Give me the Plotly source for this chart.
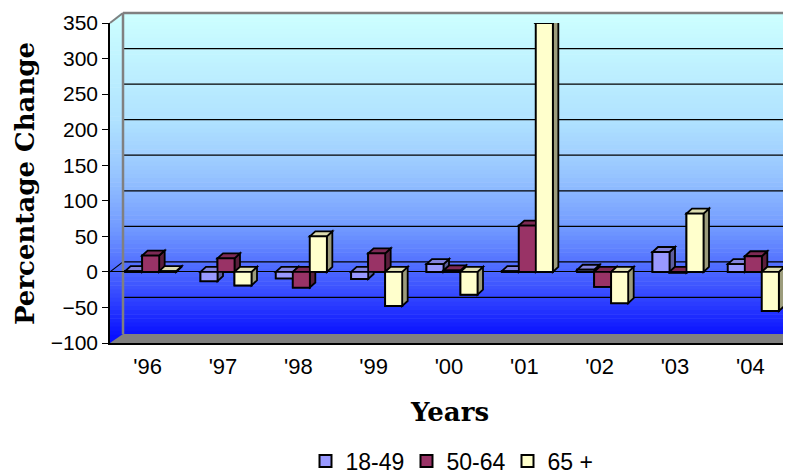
import plotly.graph_objects as go

# ---------------- data ----------------
years = ["'96", "'97", "'98", "'99", "'00", "'01", "'02", "'03", "'04"]
series_names = ["18-49", "50-64", "65 +"]
s18_49 = [1, -13, -9, -10, 11, 1, 3, 28, 11]
s50_64 = [23, 19, -22, 26, 2, 65, -21, -1, 22]
s65_up = [1, -19, 50, -48, -32, 350, -44, 82, -55]
y_ticks = [-100, -50, 0, 50, 100, 150, 200, 250, 300, 350]

# ---------------- style ----------------
front_cols = ["#9999FF", "#993366", "#FFFFCC"]
top_cols = ["#8484DD", "#7E2A55", "#DCDCB0"]
side_cols = ["#5E5E9E", "#5A1F3C", "#9C9C7C"]

W, H = 791, 474
OFF = 8                                  # page body margin of the browser
L, R, T, B = 110, 788, 23, 343           # plot area in screen pixels
YMIN, YMAX = y_ticks[0], y_ticks[-1]
ppu = (B - T) / (YMAX - YMIN)            # pixels per value unit
ncat = len(years)
cat_px = (R - L) / ncat

def fx(px):
    return (px - L) / (R - L)

def fy(py):
    return (B - py) / (B - T)

def ypx(v):
    return B - (v - YMIN) * ppu

# 3-D geometry (pixels)
box_dx, box_dy = 13, 10      # back wall offset
bar_front_dx = 3.0
bar_w = 17 / cat_px          # in category units
d_dx = 5.5 / cat_px
d_dy = 5 / ppu
x_shift = bar_front_dx / cat_px
XR = W + OFF

shapes = []

# back + side wall gradient
stops = [(0.0, (204, 255, 255)), (0.33, (176, 226, 255)), (0.5, (150, 196, 255)),
         (0.67, (112, 152, 255)), (0.85, (60, 82, 255)), (1.0, (8, 16, 255))]

def grad(t):
    for (t0, c0), (t1, c1) in zip(stops[:-1], stops[1:]):
        if t <= t1:
            f = (t - t0) / (t1 - t0)
            return "rgb(%d,%d,%d)" % tuple(round(a + (b - a) * f) for a, b in zip(c0, c1))
    return "rgb(%d,%d,%d)" % stops[-1][1]

wall_top = T - box_dy
wall_bot = B - box_dy + 1
n = 80
for i in range(n):
    y0 = wall_top + (B - wall_top) * i / n
    y1 = wall_top + (B - wall_top) * (i + 1) / n + 0.6
    t = min(1.0, (y0 - wall_top) / (wall_bot - wall_top))
    shapes.append(dict(type="rect", xref="paper", yref="paper", layer="below",
                       x0=fx(L), x1=fx(XR), y0=fy(y0), y1=fy(y1),
                       fillcolor=grad(t), line=dict(width=0)))

# white triangle above the slanted top of the side wall
shapes.append(dict(type="path", xref="paper", yref="paper", layer="below",
                   path="M %f,%f L %f,%f L %f,%f Z" % (fx(L - 1), fy(wall_top - 2), fx(L + box_dx), fy(wall_top - 2), fx(L - 1), fy(T)),
                   fillcolor="white", line=dict(width=0)))
# floor
shapes.append(dict(type="path", xref="paper", yref="paper", layer="below",
                   path="M %f,%f L %f,%f L %f,%f L %f,%f Z" % (fx(L), fy(B), fx(L + box_dx), fy(wall_bot), fx(XR), fy(wall_bot), fx(XR), fy(B)),
                   fillcolor="#808080", line=dict(width=0)))
# back wall gridlines
for v in y_ticks[1:-1]:
    yy = ypx(v) - box_dy
    shapes.append(dict(type="line", xref="paper", yref="paper", layer="below",
                       x0=fx(L + box_dx), x1=fx(XR), y0=fy(yy), y1=fy(yy),
                       line=dict(color="black", width=1.2)))
# zero diagonal on side wall
shapes.append(dict(type="line", xref="paper", yref="paper", layer="below",
                   x0=fx(L), y0=fy(ypx(0)), x1=fx(L + box_dx), y1=fy(ypx(0) - box_dy),
                   line=dict(color="black", width=1.2)))
# gray wall edges
gray = "#808080"
shapes.append(dict(type="line", xref="paper", yref="paper", layer="below",
                   x0=fx(L + box_dx), x1=fx(XR), y0=fy(wall_top), y1=fy(wall_top),
                   line=dict(color=gray, width=2.5)))
shapes.append(dict(type="line", xref="paper", yref="paper", layer="below",
                   x0=fx(L + box_dx), x1=fx(L + box_dx), y0=fy(wall_top), y1=fy(wall_bot),
                   line=dict(color=gray, width=2.5)))
shapes.append(dict(type="line", xref="paper", yref="paper", layer="below",
                   x0=fx(L), x1=fx(L + box_dx), y0=fy(T), y1=fy(wall_top),
                   line=dict(color=gray, width=2)))

# 3-D bar faces (drawn in painter's order, from the data)
all_series = [s18_49, s50_64, s65_up]
for i in range(ncat):
    for k, vals in enumerate(all_series):
        v = vals[i]
        xl = i + x_shift + (k - 1.5) * bar_w
        xr = xl + bar_w
        lo, hi = min(v, 0), max(v, 0)
        ln = dict(color="black", width=1.8)
        shapes.append(dict(type="path", xref="x", yref="y", layer="above",
                           path="M %f,%f L %f,%f L %f,%f L %f,%f Z" % (xr, lo, xr, hi, xr + d_dx, hi + d_dy, xr + d_dx, lo + d_dy),
                           fillcolor=side_cols[k], line=ln))
        shapes.append(dict(type="path", xref="x", yref="y", layer="above",
                           path="M %f,%f L %f,%f L %f,%f L %f,%f Z" % (xl, hi, xr, hi, xr + d_dx, hi + d_dy, xl + d_dx, hi + d_dy),
                           fillcolor=top_cols[k], line=ln))
        shapes.append(dict(type="rect", xref="x", yref="y", layer="above",
                           x0=xl, x1=xr, y0=lo, y1=hi,
                           fillcolor=front_cols[k], line=ln))

fig = go.Figure()
for k, (name, vals) in enumerate(zip(series_names, all_series)):
    fig.add_trace(go.Bar(
        x=[i + x_shift for i in range(ncat)], y=vals, name=name,
        width=bar_w, offset=(k - 1.5) * bar_w,
        marker=dict(color=front_cols[k], line=dict(color="black", width=2)),
        xaxis="x", yaxis="y"))

tick_font = dict(family="Liberation Sans, Arial, sans-serif", size=21, color="black")
boundaries = [i - 0.5 for i in range(ncat + 1)]

fig.update_layout(
    width=W, height=H,
    margin=dict(l=L - OFF, r=W - R + OFF, t=T - OFF, b=H - B + OFF, autoexpand=False),
    paper_bgcolor="white", plot_bgcolor="rgba(0,0,0,0)",
    barmode="overlay", showlegend=True,
    shapes=shapes,
    xaxis=dict(range=[-0.5, ncat - 0.5], tickvals=list(range(ncat)), ticktext=years,
               ticks="", ticklabelstandoff=3, automargin=False,
               showline=True, linecolor="black", linewidth=1.5,
               showgrid=False, zeroline=False, tickfont=dict(tick_font, size=22), fixedrange=True),
    xaxis2=dict(range=[-0.5, ncat - 0.5], overlaying="x", anchor="y", tickvals=boundaries,
                ticks="outside", ticklen=6, tickcolor="black", tickwidth=1.3, automargin=False,
                showticklabels=False, showline=False, showgrid=False, zeroline=False),
    xaxis3=dict(range=[-0.5, ncat - 0.5], overlaying="x", anchor="free",
                position=(0 - YMIN) / (YMAX - YMIN), tickvals=boundaries, automargin=False,
                ticks="outside", ticklen=6, tickcolor="black", tickwidth=1.3,
                showticklabels=False, showline=False, showgrid=False, zeroline=False),
    yaxis=dict(range=[YMIN, YMAX], tickvals=y_ticks, ticks="outside", ticklen=6,
               tickcolor="black", tickwidth=1.3, automargin=False,
               showline=True, linecolor="black", linewidth=1.5,
               showgrid=False, zeroline=True, zerolinecolor="black", zerolinewidth=1.3,
               tickfont=tick_font),
    legend=dict(orientation="h", x=fx(457), xanchor="center", y=fy(461), yanchor="middle",
                font=dict(family="Liberation Sans, Arial, sans-serif", size=23, color="black"),
                itemwidth=30, entrywidth=56, entrywidthmode="pixels",
                bgcolor="rgba(0,0,0,0)"),
    annotations=[
        dict(text="Percentage Change", xref="paper", yref="paper", x=fx(25), y=fy(184),
             textangle=-90, showarrow=False, xanchor="center", yanchor="middle",
             font=dict(family="DejaVu Serif, serif", size=26, color="black", weight="bold")),
        dict(text="Years", xref="paper", yref="paper", x=fx(449), y=fy(412),
             showarrow=False, xanchor="center", yanchor="middle",
             font=dict(family="DejaVu Serif, serif", size=26, color="black", weight="bold")),
    ],
)

fig.write_html("out.html")
